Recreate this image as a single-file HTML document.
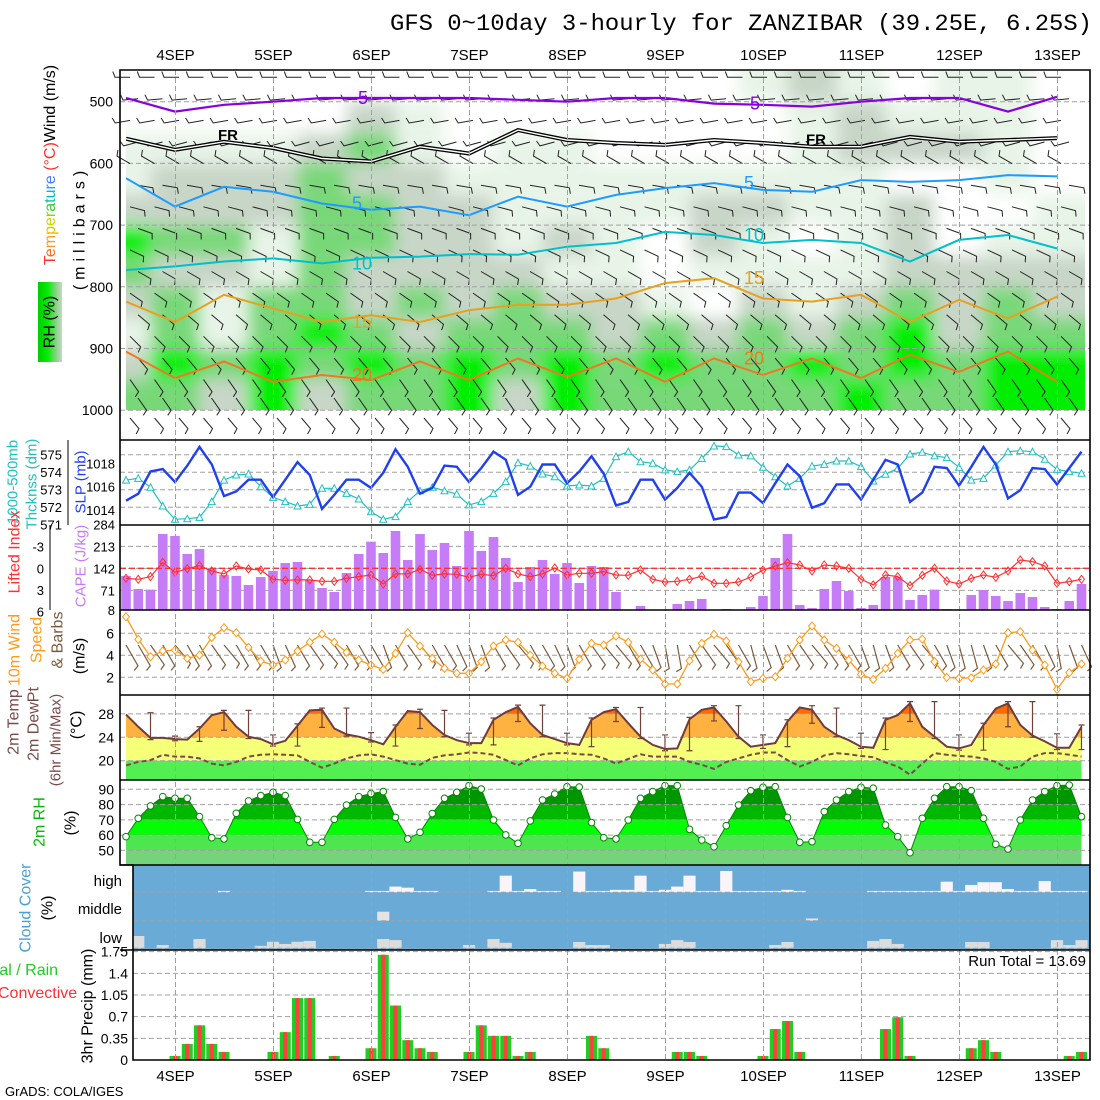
<!DOCTYPE html>
<html><head><meta charset="utf-8"><title>GFS meteogram ZANZIBAR</title>
<style>
html,body{margin:0;padding:0;background:#fff;}
svg{display:block;font-family:"Liberation Sans",sans-serif;}
</style></head>
<body>
<svg id="chart" width="1100" height="1100" viewBox="0 0 1100 1100" xmlns="http://www.w3.org/2000/svg">
<defs>
  <clipPath id="clipTop"><rect x="126" y="70" width="959" height="340"/></clipPath>
  <filter id="soft" filterUnits="userSpaceOnUse" x="60" y="0" width="1100" height="460"><feGaussianBlur stdDeviation="8"/></filter>
  <linearGradient id="rhbox" x1="0" y1="0" x2="1" y2="0">
    <stop offset="0" stop-color="#00cc00"/><stop offset="0.4" stop-color="#00ee00"/><stop offset="0.7" stop-color="#77d477"/><stop offset="1" stop-color="#c8d6c8"/>
  </linearGradient>
</defs>
<rect x="0" y="0" width="1100" height="1100" fill="#fff"/>
<text x="390" y="30" style="font-family:'Liberation Mono',monospace;font-size:23px" textLength="702" lengthAdjust="spacingAndGlyphs">GFS 0~10day 3-hourly for ZANZIBAR (39.25E, 6.25S)</text>
<g id="layers"></g>
<text x="5" y="1096" font-size="13">GrADS: COLA/IGES</text>
</svg>
<script>
// ---------------- DATA ----------------
const days = ["4SEP","5SEP","6SEP","7SEP","8SEP","9SEP","10SEP","11SEP","12SEP","13SEP"];
const slp = [1014.8,1015.4,1017.3,1017.5,1016.4,1017.8,1019.4,1017.9,1015.2,1015.6,1016.6,1016.6,1015.1,1016.6,1018.1,1017.0,1014.1,1015.3,1016.6,1016.6,1015.9,1017.2,1019.2,1017.7,1015.4,1015.9,1017.8,1017.7,1016.4,1017.6,1019.0,1018.3,1015.3,1016.0,1017.9,1017.9,1016.3,1017.3,1018.6,1017.1,1014.4,1014.7,1016.6,1016.6,1014.9,1015.9,1017.2,1016.0,1013.2,1013.4,1015.5,1015.5,1014.6,1016.3,1017.9,1016.9,1014.2,1014.6,1016.2,1016.2,1014.9,1016.6,1018.3,1017.9,1014.7,1015.5,1017.7,1017.6,1016.1,1017.7,1019.4,1017.9,1015.0,1015.7,1017.6,1017.5,1016.2,1017.6,1019.0];
const thickness = [573.55,573.65,573.14,572.07,571.31,571.34,571.42,572.32,573.55,573.84,573.90,573.17,572.56,572.32,572.07,572.16,573.08,573.08,572.79,572.47,571.74,571.31,571.46,572.32,572.94,573.14,572.94,572.75,572.13,572.32,572.79,573.46,574.54,574.35,573.90,573.74,573.21,573.27,573.21,573.65,574.89,575.17,574.60,574.51,574.13,574.03,574.13,574.79,575.50,575.46,574.98,574.93,574.28,573.74,573.21,573.65,574.35,574.45,574.64,574.64,574.32,573.50,573.88,574.22,575.04,575.14,574.93,574.83,574.28,573.55,573.65,574.41,575.17,575.23,575.17,574.74,574.16,574.03,573.94];
const cape = [117.5,75.6,73.5,252.7,246.3,188.3,204.4,142.2,120.7,117.5,88.5,114.3,133.6,159.3,162.6,104.6,78.8,66,127.1,188.3,228,191.5,262.4,169,252.7,201.2,223.7,149.7,262.4,198,243,175.4,98.2,146.5,169,124,159.3,95,149.7,146.5,66,8,20.9,8,8,27.3,37,43.4,8,11.2,8,17.7,53,175.4,252.7,24.1,14.4,75.6,101.4,69.2,14.4,24.1,114.3,114.3,40.2,56.3,73.5,11.2,10.1,56.3,72.4,53,37,62.7,49.9,17.7,11.2,37,91.7];
const liftedIndex = [1.38,1.52,1.15,-0.83,0.55,0.05,-0.37,0.37,0.78,-0.32,0.09,0.23,1.52,1.66,1.61,1.61,1.8,1.8,1.38,1.15,0.92,2.17,0.78,0.78,0.14,0.97,0.78,0.83,1.24,0.83,1.01,0,0.78,1.15,0.78,-0.05,0.92,0.69,0.69,0.46,0.92,0.97,0.23,1.52,1.89,1.8,1.52,1.1,2.07,2.07,1.89,1.2,0.23,-0.32,-0.78,-0.46,0.37,-0.46,-0.32,0,1.52,2.3,0.92,1.15,2.4,0.97,0,1.75,2.17,1.38,0.92,1.24,0.37,-1.15,-0.92,-0.32,2.07,1.84,1.52];
const windSpeed = [7.5,5.45,3.87,4.39,4.48,3.72,4.02,5.63,6.51,6.05,4.72,3.48,3.12,3.57,4.39,5.18,5.93,5.18,4.27,3.57,3.12,2.72,4.18,6.05,4.84,3.72,2.81,2.36,2.36,3.42,4.84,5.39,5.18,4.02,3.02,2.36,1.9,3.63,5.09,4.93,5.75,5.18,3.66,2.66,1.39,1.39,3.51,5.09,5.9,5.3,3.42,1.6,1.9,2.05,3.72,5.39,6.66,5.39,4.63,3.57,2.27,1.81,2.81,4.18,5.39,5.48,3.42,1.99,1.9,1.96,2.66,3.21,6.05,6.15,4.48,3.12,0.9,2.42,3.21];
const windDir10m = [150,150,145,150,140,150,150,145,140,150,150,150,160,155,150,145,140,145,150,150,150,160,150,145,140,150,150,155,160,160,150,145,140,150,150,155,160,150,145,140,140,150,150,160,170,170,150,145,140,145,150,165,160,160,150,145,140,145,150,150,160,165,160,150,145,140,150,160,165,165,160,150,140,145,150,155,170,160,155];
const temp2m = [27.9,25.8,23.9,23.9,23.7,23.6,25.5,27.8,28.3,25.8,24.1,23.7,22.8,23.4,26.0,28.6,28.7,25.5,24.5,24.1,23.5,22.8,25.8,28.5,28.3,26.1,24.4,23.5,23.0,23.0,27.0,28.3,29.2,26.4,24.4,23.7,23.0,22.7,27.0,28.3,28.8,26.4,24.1,22.7,22.0,22.1,27.1,28.7,29.1,26.7,24.1,22.4,22.7,23.0,26.7,29.1,28.7,25.8,24.4,23.5,22.4,22.2,27.0,27.8,29.8,25.8,24.1,22.4,22.1,22.7,26.1,28.9,29.8,26.1,24.3,23.3,22.2,22.2,25.8];
const dewpt2m = [19.2,19.8,20.1,21.0,20.7,20.7,20.4,19.5,19.2,19.8,20.7,21.0,21.1,21.0,20.9,19.8,18.8,19.5,20.4,20.9,21.1,20.7,20.1,19.5,19.3,20.5,20.9,21.1,21.4,21.3,21.0,20.1,19.2,20.4,21.1,21.3,21.3,21.1,21.0,20.4,19.5,20.3,21.1,20.7,20.7,20.7,19.8,19.3,18.6,19.8,20.4,21.0,21.4,21.4,20.1,19.0,19.8,20.9,21.3,21.1,20.8,20.6,19.7,19.0,17.6,19.5,21.3,21.0,20.8,20.7,20.4,19.8,18.6,19.0,20.7,21.3,21.3,21.0,20.7];
const rh2m = [59.0,71.0,79.1,85.2,84.1,84.1,72.1,58.3,57.5,74.3,82.4,85.9,88.0,85.9,70.3,55.3,55.3,70.3,79.7,85.2,87.2,88.5,71.6,57.5,61.8,74.1,84.1,88.0,92.4,90.2,69.9,60.1,54.6,69.3,83.0,86.9,91.7,91.5,68.2,58.3,57.5,69.9,84.1,88.5,92.4,92.4,63.8,56.8,52.4,66.2,79.7,89.1,91.3,91.7,71.6,55.3,55.7,75.4,83.0,88.5,91.3,90.7,66.6,59.0,48.5,71.0,84.1,91.7,91.7,89.1,71.0,54.0,50.9,69.9,83.0,88.5,92.4,92.8,72.1];
const precip = [0,0,0,0,0.065,0.26,0.56,0.26,0.13,0,0,0,0.13,0.45,1.0,1.0,0,0.065,0,0,0.19,1.7,0.88,0.32,0.19,0.13,0,0,0.13,0.56,0.39,0.39,0.065,0.13,0,0,0,0,0.39,0.19,0,0,0,0,0,0.13,0.13,0.065,0,0,0,0,0.065,0.5,0.63,0.13,0,0,0,0,0,0,0.5,0.69,0.065,0,0,0,0,0.19,0.32,0.13,0,0,0,0,0,0.065,0.13];
const cloudLow = [0,45,0,12,0,0,34,0,0,0,0,9,24,16,24,27,0,0,0,0,0,34,30,0,0,0,0,0,12,0,34,20,0,0,0,0,0,23,12,12,0,0,0,0,16,30,23,0,0,0,0,0,0,12,23,0,0,0,0,0,0,27,34,16,0,0,0,0,0,23,23,0,0,0,0,0,30,12,30];
const cloudMid = [0,0,0,0,0,0,0,0,0,0,0,0,0,0,0,0,0,0,0,0,0,33,0,0,0,0,0,0,0,0,0,0,0,0,0,0,0,0,0,0,0,0,0,0,0,0,0,0,0,0,0,0,0,0,0,0,8,0,0,0,0,0,0,0,0,0,0,0,0,0,0,0,0,0,0,0,0,0,0];
const cloudHigh = [0,0,0,0,0,0,0,0,5,0,0,0,0,0,0,0,0,0,0,0,5,5,21,17,5,5,0,0,0,0,5,61,5,12,5,5,0,76,5,5,9,9,61,5,9,21,61,5,5,78,5,5,5,5,9,5,0,0,0,0,0,5,5,5,5,5,5,39,5,27,37,37,12,5,5,41,5,5,5];
const rhLevels = [475,525,575,625,675,725,775,825,875,925,975];
const rhGrid = [
 [20,20,20,20,20,20,20,20,20,20,20,20,20,40,60,40,20,40,40,20],
 [20,20,20,20,20,60,40,20,20,20,20,20,20,20,40,60,40,40,40,20],
 [40,40,40,40,60,80,40,20,40,40,20,20,20,20,40,60,60,60,40,20],
 [40,60,60,60,80,60,60,40,40,40,40,40,40,40,40,40,20,20,40,20],
 [60,60,60,60,80,80,60,60,40,40,40,40,60,60,40,40,60,20,20,40],
 [95,80,80,40,80,80,60,60,40,60,40,20,60,40,20,40,60,20,40,40],
 [80,60,60,40,80,60,60,60,60,40,40,20,40,40,40,40,60,60,60,60],
 [60,80,40,80,80,60,80,60,80,60,60,40,20,60,40,60,80,60,80,60],
 [40,80,40,80,95,80,60,80,80,80,60,80,60,80,60,80,95,60,80,80],
 [60,95,80,95,80,95,80,95,80,95,80,95,80,80,95,80,95,80,95,95],
 [80,80,60,95,60,80,80,95,60,95,80,80,80,80,80,95,80,80,95,95]];
const isoM5 = [494,516,505,500,494,494,494,494,497,500,494,494,503,505,508,500,494,494,516,492];
const isoFR = [560,578,565,575,592,597,573,584,546,562,567,570,562,567,573,573,557,565,562,559];
const iso5 = [624,670,638,646,665,675,670,684,654,670,651,640,632,643,646,627,630,627,619,621];
const iso10 = [773,767,759,754,762,753,751,747,748,735,729,711,716,729,724,729,759,724,716,738];
const iso15 = [824,857,813,835,857,846,857,838,829,829,819,794,786,819,824,813,857,821,851,816];
const iso20 = [905,948,921,954,943,951,921,951,916,946,916,954,916,943,916,948,910,938,905,954];
const barbLevels = [470,505,540,575,610,645,680,715,750,785,820,855,890,925,960,990];
const barbDirs   = [270,265,260,255,300,100,105,110,115,120,125,130,135,140,145,145];

// ---------------- SCALES ----------------
const NS = "http://www.w3.org/2000/svg";
const root = document.getElementById('layers');
const xOf = i => 126 + 12.25 * i;
const xCol = k => 126 + 49 * k;
const yP = p => 101.7 + (p - 500) * 0.617;
const slpY = v => 486.7 - (v - 1016) * 11.7;
const thkY = v => 489.7 - (v - 573) * 17.5;
const capeY = v => 610 - (v - 8) / 3.22;
const liY = v => 568.3 + v * 7.23;
const wsY = v => 677.3 - (v - 2) * 11;
const tY = v => 737.3 - (v - 24) * 5.85;
const rhY = v => 789.3 + (90 - v) * 1.527;
const prY = v => 1060 - v * 61.9;

function mk(tag, attrs, parent) {
  const e = document.createElementNS(NS, tag);
  for (const k in attrs) e.setAttribute(k, attrs[k]);
  (parent || root).appendChild(e);
  return e;
}
function grp(name, parent) {
  const g = mk('g', {}, parent);
  
  
  return g;
}
function txt(s, x, y, attrs, parent) {
  const t = mk('text', Object.assign({x: x, y: y}, attrs || {}), parent);
  t.textContent = s;
  return t;
}
function vtxt(s, x, y, attrs, parent) {
  const t = mk('text', Object.assign({x: 0, y: 0, transform: `translate(${x},${y}) rotate(-90)`, 'text-anchor': 'middle', 'dominant-baseline': 'central'}, attrs || {}), parent);
  t.textContent = s;
  return t;
}
function pathFrom(arr, fy) { return arr.map((v, i) => (i ? 'L' : 'M') + xOf(i).toFixed(1) + ',' + fy(v).toFixed(1)).join(''); }
function hgrid(g, ys, x0) { ys.forEach(y => mk('line', {x1: x0 || 120, x2: 1090, y1: y, y2: y, stroke: '#a0a0a0', 'stroke-dasharray': '5,3', 'stroke-width': 1}, g)); }
function barb(g, x, y, dir, len, color, w) {
  const r = dir * Math.PI / 180;
  const ex = x + len * Math.sin(r), ey = y - len * Math.cos(r);
  const b = r + 1.2;
  const bx = ex + 6 * Math.sin(b), by = ey - 6 * Math.cos(b);
  const l = mk('path', {d: `M${x.toFixed(1)},${y.toFixed(1)}L${ex.toFixed(1)},${ey.toFixed(1)}L${bx.toFixed(1)},${by.toFixed(1)}`, fill: 'none', stroke: color, 'stroke-width': w || 1}, g);
  
  
}

// ---------------- TOP PANEL ----------------
const gTop = grp('upper-air-panel');
const gField = grp('rh-field', gTop);
gField.setAttribute('clip-path', 'url(#clipTop)');
const gBlur = mk('g', {filter: 'url(#soft)'}, gField);
const rhColor = v => v >= 90 ? '#00ee00' : v >= 70 ? '#78d878' : v >= 50 ? '#c8d6c8' : v >= 30 ? '#e8f4e8' : '#ffffff';
rhGrid.forEach((row, r) => {
  row.forEach((v, k) => {
    const p = rhLevels[r];
    const y0 = r === 0 ? 30 : yP(p - 25), y1 = r === rhLevels.length - 1 ? 440 : yP(p + 25);
    const x0 = k === 0 ? 80 : xCol(k) - 24.5, x1 = k === row.length - 1 ? 1130 : xCol(k) + 24.5;
    const c = mk('rect', {x: x0, y: y0, width: x1 - x0, height: y1 - y0, fill: rhColor(v)}, gBlur);
    
    
  });
});
hgrid(gTop, [500, 600, 700, 800, 900, 1000].map(yP));
[500, 600, 700, 800, 900, 1000].forEach(p => {
  const t = txt(String(p), 113, yP(p) + 5, {'text-anchor': 'end', 'font-size': 14}, gTop);
  
  
});
const gBarbs = grp('upper-wind-barbs', gTop);
for (let c = 0; c < 40; c++) {
  barbLevels.forEach((p, r) => {
    const x = 130 + 24.5 * c + (r % 2) * 8;
    if (x > 1082) return;
    barb(gBarbs, x, yP(p) - 6, barbDirs[r], 15, '#222', 1);
  });
  const xs = 130 + 24.5 * c;
  if (xs <= 1082) barb(gBarbs, xs, 418, 140, 14, '#222', 1);
}
const isoDefs = [[isoM5, '#8800dd', 2.2, '-5'], [iso5, '#1e9bff', 2, '5'], [iso10, '#00c0cc', 2, '10'], [iso15, '#e8a020', 2, '15'], [iso20, '#f07820', 2, '20']];
const gIso = grp('isotherms', gTop);
gIso.setAttribute('clip-path', 'url(#clipTop)');
isoDefs.forEach(d => {
  const p = mk('path', {d: d[0].map((v, k) => (k ? 'L' : 'M') + Math.min(xCol(k), 1085) + ',' + yP(v).toFixed(1)).join(''), fill: 'none', stroke: d[1], 'stroke-width': d[2]}, gIso);
  
  
  [4, 12].forEach(k => {
    const t = txt(d[3], xCol(k) + 30, yP(d[0][k]) + 6, {'font-size': 18, fill: d[1]}, gIso);
    
    
  });
});
const frPath = isoFR.map((v, k) => (k ? 'L' : 'M') + Math.min(xCol(k), 1085) + ',' + yP(v).toFixed(1)).join('');
const fr1 = mk('path', {d: frPath, fill: 'none', stroke: '#000', 'stroke-width': 4}, gIso);


mk('path', {d: frPath, fill: 'none', stroke: '#fff', 'stroke-width': 1.4}, gIso);
[2, 14].forEach(k => {
  const t = txt('FR', xCol(k) - 6, yP(isoFR[k]) - 2, {'font-size': 15, 'font-weight': 'bold', fill: '#000'}, gIso);
  
  
});

// ---------------- SLP / THICKNESS ----------------
const gSlp = grp('slp-thickness-panel');
hgrid(gSlp, [575, 574, 573, 572].map(thkY));
const pThk = mk('path', {d: pathFrom(thickness, thkY), fill: 'none', stroke: '#20c0c0', 'stroke-width': 1.2}, gSlp);


thickness.forEach((v, i) => {
  const x = xOf(i), y = thkY(v);
  const m = mk('path', {d: `M${x - 3.5},${y + 3}L${x + 3.5},${y + 3}L${x},${y - 3.5}Z`, fill: '#fff', stroke: '#20c0c0', 'stroke-width': 1}, gSlp);
  
  
});
const pSlp = mk('path', {d: pathFrom(slp, slpY), fill: 'none', stroke: '#2040f0', 'stroke-width': 2.4}, gSlp);


[575, 574, 573, 572, 571].forEach(v => { const t = txt(String(v), 62, thkY(v) + 5, {'text-anchor': 'end', 'font-size': 13}, gSlp);   });
mk('line', {x1: 68, x2: 68, y1: 440, y2: 525, stroke: '#000'}, gSlp);
[1018, 1016, 1014].forEach(v => { const t = txt(String(v), 115, slpY(v) + 5, {'text-anchor': 'end', 'font-size': 13}, gSlp);   });

// ---------------- CAPE / LI ----------------
const gCape = grp('cape-li-panel');
hgrid(gCape, [213, 142, 71].map(capeY));
cape.forEach((v, i) => {
  const b = mk('rect', {x: xOf(i) - 4.8, y: capeY(v), width: 9.6, height: 610 - capeY(v), fill: '#c77cf7'}, gCape);
  
  
});
mk('line', {x1: 120, x2: 1090, y1: liY(0), y2: liY(0), stroke: '#ff3030', 'stroke-dasharray': '6,3', 'stroke-width': 1.3}, gCape);
const pLi = mk('path', {d: pathFrom(liftedIndex, liY), fill: 'none', stroke: '#ff3030', 'stroke-width': 1.2}, gCape);


liftedIndex.forEach((v, i) => {
  const x = xOf(i), y = liY(v);
  const m = mk('path', {d: `M${x},${y - 4}L${x + 3},${y}L${x},${y + 4}L${x - 3},${y}Z`, fill: 'none', stroke: '#ff3030', 'stroke-width': 1}, gCape);
  
  
});
[284, 213, 142, 71, 8].forEach(v => { const t = txt(String(v), 115, capeY(v) + 5, {'text-anchor': 'end', 'font-size': 13}, gCape);   });
[-3, 0, 3, 6].forEach(v => { const t = txt(String(v), 44, liY(v) + 5, {'text-anchor': 'end', 'font-size': 13}, gCape);   });
mk('line', {x1: 50, x2: 50, y1: 525, y2: 610, stroke: '#000'}, gCape);

// ---------------- 10m WIND ----------------
const gWind = grp('wind10m-panel');
hgrid(gWind, [6, 4, 2].map(wsY));
windDir10m.forEach((d, i) => barb(gWind, xOf(i), 645, d, 24, '#7a5a3c', 1.2));
const pWs = mk('path', {d: pathFrom(windSpeed, wsY), fill: 'none', stroke: '#ff9a1a', 'stroke-width': 1.3}, gWind);


windSpeed.forEach((v, i) => {
  const x = xOf(i), y = wsY(v);
  const m = mk('path', {d: `M${x},${y - 4}L${x + 3.5},${y}L${x},${y + 4}L${x - 3.5},${y}Z`, fill: '#fff', stroke: '#ff9a1a', 'stroke-width': 1}, gWind);
  
  
});
[6, 4, 2].forEach(v => { const t = txt(String(v), 114, wsY(v) + 5, {'text-anchor': 'end', 'font-size': 14}, gWind);   });

// ---------------- 2m TEMP ----------------
const gT = grp('temperature-panel');
mk('clipPath', {id: 'clipT'}, gT);
const clipT = gT.lastChild;
mk('path', {d: pathFrom(temp2m, tY) + `L${xOf(78)},780L${xOf(0)},780Z`}, clipT);
const gTB = mk('g', {'clip-path': 'url(#clipT)'}, gT);
[[690, tY(28), '#ff6a00'], [tY(28), tY(24), '#ffb23f'], [tY(24), tY(20), '#f5ff78'], [tY(20), 780, '#52ee52']].forEach(b => mk('rect', {x: 120, y: b[0], width: 970, height: b[1] - b[0], fill: b[2]}, gTB));
hgrid(gT, [28, 24, 20].map(tY));
const pT = mk('path', {d: pathFrom(temp2m, tY), fill: 'none', stroke: '#6e3c3c', 'stroke-width': 2}, gT);


const pD = mk('path', {d: pathFrom(dewpt2m, tY), fill: 'none', stroke: '#7a4a4a', 'stroke-width': 2, 'stroke-dasharray': '5,3'}, gT);


for (let i = 2; i < temp2m.length; i += 2) {
  const w = temp2m.slice(i - 2, i + 1);
  const hi = Math.max(...w) + 0.3, lo = Math.min(...w) - 0.3;
  const x = xOf(i);
  const e = mk('path', {d: `M${x},${tY(hi)}L${x},${tY(lo)}M${x - 3},${tY(hi)}L${x + 3},${tY(hi)}M${x - 3},${tY(lo)}L${x + 3},${tY(lo)}`, stroke: '#70403a', 'stroke-width': 1.2, fill: 'none'}, gT);
  
  
}
[28, 24, 20].forEach(v => { const t = txt(String(v), 114, tY(v) + 5, {'text-anchor': 'end', 'font-size': 14}, gT);   });

// ---------------- 2m RH ----------------
const gRh = grp('rh-panel');
mk('clipPath', {id: 'clipRh'}, gRh);
const clipR = gRh.lastChild;
mk('path', {d: pathFrom(rh2m, rhY) + `L${xOf(78)},865L${xOf(0)},865Z`}, clipR);
const gRB = mk('g', {'clip-path': 'url(#clipRh)'}, gRh);
[[770, rhY(80), '#009600'], [rhY(80), rhY(70), '#00b800'], [rhY(70), rhY(60), '#00ff00'], [rhY(60), rhY(50), '#4ee64e'], [rhY(50), 865, '#74d47a']].forEach(b => mk('rect', {x: 120, y: b[0], width: 970, height: b[1] - b[0], fill: b[2]}, gRB));
hgrid(gRh, [90, 80, 70, 60, 50].map(rhY));
const pR = mk('path', {d: pathFrom(rh2m, rhY), fill: 'none', stroke: '#008800', 'stroke-width': 1}, gRh);


rh2m.forEach((v, i) => {
  const c = mk('circle', {cx: xOf(i), cy: rhY(v), r: 3.3, fill: '#fff', stroke: '#008800', 'stroke-width': 1}, gRh);
  
  
});
[90, 80, 70, 60, 50].forEach(v => { const t = txt(String(v), 114, rhY(v) + 5, {'text-anchor': 'end', 'font-size': 14}, gRh);   });

// ---------------- CLOUD ----------------
const gC = grp('cloud-panel');
mk('rect', {x: 133, y: 865, width: 957, height: 85, fill: '#6aaad6'}, gC);
[[cloudHigh, 892.3, '#f8f4f8'], [cloudMid, 920.7, '#e4e4e4'], [cloudLow, 948.3, '#dcdcdc']].forEach(L => {
  L[0].forEach((v, i) => {
    if (!v) return;
    const h = v * 0.273;
    const x0 = Math.max(133, xOf(i) - 6.1);
    const b = mk('rect', {x: x0, y: L[1] - h, width: xOf(i) + 6.1 - x0, height: h, fill: L[2]}, gC);
    
    
  });
});
hgrid(gC, [892.3, 920.7, 948.3], 133);
[['high', 886], ['middle', 914], ['low', 943]].forEach(l => { const t = txt(l[0], 122, l[1], {'text-anchor': 'end', 'font-size': 15}, gC);   });

// ---------------- PRECIP ----------------
const gP = grp('precip-panel');
hgrid(gP, [1.75, 1.4, 1.05, 0.7, 0.35].map(prY), 133);
precip.forEach((v, i) => {
  if (!v) return;
  const x = xOf(i);
  const b = mk('rect', {x: x - 5.5, y: prY(v), width: 11, height: 1060 - prY(v), fill: '#22cc22'}, gP);
  
  
  const c = mk('rect', {x: x - 2, y: prY(v), width: 4, height: 1060 - prY(v), fill: '#ff4040'}, gP);
  
  
});
['1.75', '1.4', '1.05', '0.7', '0.35', '0'].forEach(s => { const t = txt(s, 128, prY(parseFloat(s)) + 5, {'text-anchor': 'end', 'font-size': 14}, gP);   });
const rt = txt('Run Total = 13.69', 1086, 966, {'text-anchor': 'end', 'font-size': 15}, gP);



// ---------------- GRID, FRAMES, DATES ----------------
const gF = grp('frames');
days.forEach((d, k) => {
  const x = 175.5 + 98 * k;
  mk('line', {x1: x, x2: x, y1: 70, y2: 1060, stroke: '#a0a0a0', 'stroke-dasharray': '5,3'}, gF);
  const a = txt(d, x, 60, {'text-anchor': 'middle', 'font-size': 15}, gF);
  
  
  const b = txt(d, x, 1081, {'text-anchor': 'middle', 'font-size': 15}, gF);
  
  
});
mk('path', {d: 'M120,70L1090,70L1090,1060L133,1060L133,865L120,865Z', fill: 'none', stroke: '#000', 'stroke-width': 1.6}, gF);
[440, 525, 610, 695, 780, 865, 950].forEach(y => mk('line', {x1: 120, x2: 1090, y1: y, y2: y, stroke: '#000', 'stroke-width': 1.6}, gF));

// ---------------- AXIS TITLES ----------------
const gL = grp('axis-titles');
const tw = mk('text', {x: 0, y: 0, transform: 'translate(50,165) rotate(-90)', 'text-anchor': 'middle', 'dominant-baseline': 'central', 'font-size': 16}, gL);


const cols = ['#ff3030', '#ff6a20', '#ff9a20', '#e8c000', '#c8d800', '#88d800', '#30d030', '#00c8a0', '#00b8d0', '#20a0ff', '#4080ff'];
'Temperature'.split('').forEach((ch, j) => { const s = mk('tspan', {fill: cols[j]}, tw); s.textContent = ch; });
const s1 = mk('tspan', {fill: '#ff3030'}, tw); s1.textContent = ' (°C)';
const s2 = mk('tspan', {fill: '#000'}, tw); s2.textContent = 'Wind (m/s)';
const rb = mk('rect', {x: 38, y: 282, width: 24, height: 80, fill: 'url(#rhbox)'}, gL);


const titles = [
 ['RH (%)', 50, 322, '#000', 16],
 ['(millibars)', 80, 228, '#000', 16, 5],
 ['1000-500mb', 13, 482, '#20c0c0', 15],
 ['Thcknss (dm)', 32, 484, '#20c0c0', 15],
 ['SLP (mb)', 81, 482, '#2040f0', 15],
 ['Lifted Index', 15, 552, '#ff3030', 16],
 ['CAPE (J/kg)', 81, 566, '#c77cf7', 15],
 ['10m Wind', 15, 650, '#ff9a1a', 16],
 ['Speed', 37, 640, '#ff9a1a', 16],
 ['& Barbs', 58, 640, '#7a5a3c', 16],
 ['(m/s)', 80, 656, '#000', 16],
 ['2m Temp', 14, 722, '#7a4a4a', 16],
 ['2m DewPt', 34, 724, '#7a4a4a', 16],
 ['(6hr Min/Max)', 56, 740, '#7a4a4a', 15],
 ['(°C)', 77, 725, '#000', 16],
 ['2m RH', 40, 822, '#00bb00', 16],
 ['(%)', 71, 823, '#000', 16],
 ['Cloud Cover', 26, 908, '#4aa0d8', 16],
 ['(%)', 48, 908, '#000', 16],
 ['3hr Precip (mm)', 88, 1006, '#000', 16]];
titles.forEach(t => {
  const e = vtxt(t[0], t[1], t[2], {fill: t[3], 'font-size': t[4], 'letter-spacing': t[5] || 0}, gL);
  
  
});
const lg1 = txt('Total / Rain', -22, 975, {fill: '#22cc22', 'font-size': 16}, gL);


const lg2 = txt('Convective', -2, 998, {fill: '#ff3030', 'font-size': 16}, gL);


</script>
</body></html>
